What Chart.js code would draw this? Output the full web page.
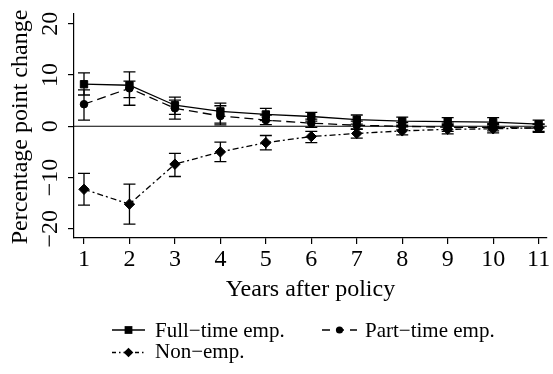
<!DOCTYPE html>
<html><head><meta charset="utf-8">
<script src="https://cdn.jsdelivr.net/npm/chart.js@4"></script>
<style>html,body{margin:0;padding:0;background:#fff}#wrap{width:553px;height:374px}</style>
</head><body><div id="wrap"><canvas id="c" width="553" height="374"></canvas></div>
<script>
const years = [1, 2, 3, 4, 5, 6, 7, 8, 9, 10, 11];
const xTicks = [1, 2, 3, 4, 5, 6, 7, 8, 9, 10, 11];
const yTicks = [-20, -10, 0, 10, 20];
const seriesNames = ['Full\u2212time emp.', 'Part\u2212time emp.', 'Non\u2212emp.'];

const fullTime     = [8.2, 8.0, 4.1, 2.9, 2.3, 1.9, 1.3, 1.0, 0.9, 0.8, 0.4];
const fullTimeLow  = [6.1, 5.6, 2.3, 0.6, 1.1, 1.0, 0.4, 0.2, 0.1, 0.0, -0.3];
const fullTimeHigh = [10.4, 10.6, 5.7, 4.5, 3.5, 2.7, 2.2, 1.8, 1.7, 1.7, 1.2];

const partTime     = [4.3, 7.4, 3.5, 2.0, 1.2, 0.6, 0.2, 0.0, -0.2, -0.2, -0.4];
const partTimeLow  = [1.2, 4.1, 1.4, 0.25, 0.3, -0.2, -0.6, -0.7, -1.0, -0.9, -1.2];
const partTimeHigh = [7.1, 8.8, 5.1, 4.0, 2.2, 1.4, 1.0, 0.7, 0.6, 0.5, 0.4];

const nonEmp     = [-12.3, -15.2, -7.4, -5.0, -3.2, -2.0, -1.4, -0.9, -0.6, -0.5, -0.3];
const nonEmpLow  = [-15.4, -19.1, -9.8, -6.9, -4.6, -3.2, -2.3, -1.7, -1.5, -1.3, -1.0];
const nonEmpHigh = [-9.2, -11.3, -5.3, -3.1, -1.8, -1.0, -0.5, -0.1, 0.3, 0.3, 0.4];

const FONT = '"Liberation Serif", "Times New Roman", serif';
const dashes = [[], [9, 5], [6, 3, 2, 3]];
const styles = ['rect', 'circle', 'rectRot'];
const radii = [5.2, 3.8, 5.2];
const lows = [fullTimeLow, partTimeLow, nonEmpLow];
const highs = [fullTimeHigh, partTimeHigh, nonEmpHigh];
const values = [fullTime, partTime, nonEmp];

const datasets = values.map((vals, i) => ({
  label: seriesNames[i],
  data: years.map((x, j) => ({x: x, y: vals[j]})),
  borderColor: '#000',
  backgroundColor: '#000',
  borderWidth: 1.3,
  borderDash: dashes[i],
  pointStyle: styles[i],
  pointRadius: radii[i],
  pointHoverRadius: radii[i],
  pointBackgroundColor: '#000',
  pointBorderColor: '#000',
  pointBorderWidth: 1,
  tension: 0,
  clip: false
}));

function drawMarker(ctx, style, x, y, r) {
  ctx.save();
  ctx.setLineDash([]);
  ctx.fillStyle = '#000';
  ctx.beginPath();
  if (style === 'rect') {
    const s = Math.SQRT1_2 * r;
    ctx.rect(x - s, y - s, 2 * s, 2 * s);
  } else if (style === 'circle') {
    ctx.arc(x, y, r, 0, Math.PI * 2);
  } else {
    ctx.moveTo(x - r, y); ctx.lineTo(x, y - r); ctx.lineTo(x + r, y); ctx.lineTo(x, y + r); ctx.closePath();
  }
  ctx.fill();
  ctx.restore();
}

const customPlugin = {
  id: 'custom',
  beforeDatasetsDraw(chart) {
    const ctx = chart.ctx, xs = chart.scales.x, ys = chart.scales.y, a = chart.chartArea;
    ctx.save();
    ctx.strokeStyle = '#000';
    ctx.lineWidth = 1.2;
    const y0 = ys.getPixelForValue(0);
    ctx.beginPath(); ctx.moveTo(a.left, y0); ctx.lineTo(a.right, y0); ctx.stroke();
    ctx.lineWidth = 1.3;
    for (let i = 0; i < 3; i++) {
      for (let j = 0; j < years.length; j++) {
        const px = xs.getPixelForValue(years[j]);
        const lo = ys.getPixelForValue(lows[i][j]);
        const hi = ys.getPixelForValue(highs[i][j]);
        ctx.beginPath();
        ctx.moveTo(px, lo); ctx.lineTo(px, hi);
        ctx.moveTo(px - 6, lo); ctx.lineTo(px + 6, lo);
        ctx.moveTo(px - 6, hi); ctx.lineTo(px + 6, hi);
        ctx.stroke();
      }
    }
    ctx.restore();
  },
  afterDraw(chart) {
    const ctx = chart.ctx, xs = chart.scales.x, ys = chart.scales.y, a = chart.chartArea;
    ctx.save();
    ctx.fillStyle = '#000';
    ctx.font = '24px ' + FONT;
    // x tick labels
    ctx.textAlign = 'center'; ctx.textBaseline = 'alphabetic';
    xs.ticks.forEach(t => {
      ctx.fillText(String(t.value), xs.getPixelForValue(t.value), 266);
    });
    // x title
    ctx.fillText('Years after policy', (a.left + a.right) / 2, 296);
    // y tick labels (rotated)
    ys.ticks.forEach(t => {
      const py = ys.getPixelForValue(t.value);
      ctx.save();
      ctx.translate(57, py);
      ctx.rotate(-Math.PI / 2);
      ctx.textAlign = 'center';
      ctx.fillText(String(t.value).replace('-', '\u2212'), 0, 0);
      ctx.restore();
    });
    // y title
    ctx.save();
    ctx.translate(27, (a.top + a.bottom) / 2 + 1);
    ctx.rotate(-Math.PI / 2);
    ctx.textAlign = 'center';
    ctx.fillText('Percentage point change', 0, 0);
    ctx.restore();
    // legend
    const items = [
      {x1: 112, x2: 145, y: 330, tx: 155, ty: 337},
      {x1: 322, x2: 357, y: 330, tx: 365, ty: 337},
      {x1: 112, x2: 145, y: 352.5, tx: 155, ty: 357.5}
    ];
    const legDash = [[], [8, 6], [4, 3, 1.5, 3]];
    ctx.font = '21px ' + FONT;
    ctx.textAlign = 'left';
    items.forEach((it, i) => {
      ctx.save();
      ctx.strokeStyle = '#000';
      ctx.lineWidth = 1.3;
      ctx.setLineDash(legDash[i]);
      ctx.beginPath(); ctx.moveTo(it.x1, it.y); ctx.lineTo(it.x2, it.y); ctx.stroke();
      ctx.restore();
      drawMarker(ctx, styles[i], (it.x1 + it.x2) / 2, it.y, i === 1 ? 3.6 : (i === 0 ? 5.5 : 4.8));
      ctx.fillText(seriesNames[i], it.tx, it.ty);
    });
    ctx.restore();
  }
};

new Chart(document.getElementById('c'), {
  type: 'line',
  data: { datasets: datasets },
  options: {
    responsive: false,
    devicePixelRatio: 1,
    animation: false,
    events: [],
    layout: { padding: { top: 14, right: 3, left: 0, bottom: 0 } },
    plugins: { legend: { display: false }, tooltip: { enabled: false } },
    scales: {
      x: {
        type: 'linear',
        min: 0.78, max: 11.18,
        afterBuildTicks: s => { s.ticks = xTicks.map(v => ({value: v})); },
        afterFit: s => { s.height = 136; },
        ticks: { display: false },
        grid: { display: true, drawOnChartArea: false, drawTicks: true, tickLength: 6, color: '#000', lineWidth: 1.2 },
        border: { display: true, color: '#000', width: 1.2 }
      },
      y: {
        type: 'linear',
        min: -21.8, max: 21.9,
        afterBuildTicks: s => { s.ticks = yTicks.map(v => ({value: v})); },
        afterFit: s => { s.width = 74; },
        ticks: { display: false },
        grid: { display: true, drawOnChartArea: false, drawTicks: true, tickLength: 6, color: '#000', lineWidth: 1.2 },
        border: { display: true, color: '#000', width: 1.2 }
      }
    }
  },
  plugins: [customPlugin]
});
</script></body></html>
